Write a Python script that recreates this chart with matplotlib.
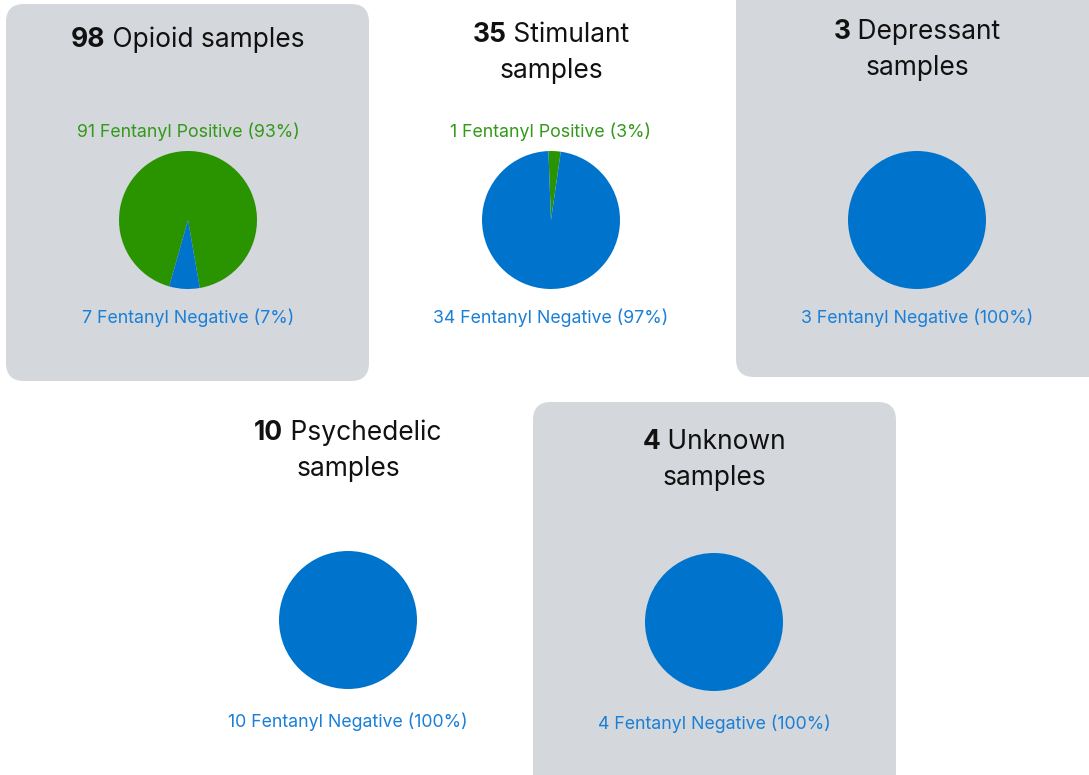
import matplotlib
matplotlib.use('Agg')
import matplotlib.pyplot as plt
from matplotlib.patches import FancyBboxPatch

# data
categories = ["Opioid", "Stimulant", "Depressant", "Psychedelic", "Unknown"]
totals = [98, 35, 3, 10, 4]
positive = [91, 1, 0, 0, 0]
negative = [7, 34, 3, 10, 4]

GREEN = "#2a9300"
BLUE = "#0074cc"
GREEN_TXT = "#33991a"
BLUE_TXT = "#1a7fd6"
GREY = "#d4d7dc"

W, H = 1089, 775
plt.rcParams['font.family'] = ['Inter', 'DejaVu Sans']

# layout in pixels: pie centre x, pie centre y, title lines y, label ys, box
panels = [
    dict(cx=188, cy=220, title_y=[40], pos_y=132, neg_y=318, box=(6, 4, 369, 381), split=False),
    dict(cx=551, cy=220, title_y=[35, 71], pos_y=132, neg_y=318, box=None, split=True),
    dict(cx=917, cy=220, title_y=[32, 68], pos_y=132, neg_y=318, box=(736, -20, 1110, 377), split=True),
    dict(cx=348, cy=620, title_y=[433, 469], pos_y=532, neg_y=722, box=None, split=True),
    dict(cx=714, cy=622, title_y=[442, 478], pos_y=534, neg_y=724, box=(533, 402, 896, 800), split=True),
]
R = 69

fig = plt.figure(figsize=(W / 100, H / 100), dpi=100)
bg = fig.add_axes([0, 0, 1, 1])
bg.set_xlim(0, W)
bg.set_ylim(H, 0)
bg.axis('off')

for p in panels:
    if p['box'] is not None:
        x0, y0, x1, y1 = p['box']
        bg.add_patch(FancyBboxPatch((x0, y0), x1 - x0, y1 - y0,
                                    boxstyle="round,pad=0,rounding_size=18",
                                    fc=GREY, ec='none', zorder=0))

fig.canvas.draw()
renderer = fig.canvas.get_renderer()

title_size = 19
label_size = 12.8

for i, p in enumerate(panels):
    cx, cy = p['cx'], p['cy']
    # title with bold count
    num = str(totals[i])
    rest = " " + categories[i] + ("" if p['split'] else " samples")
    ty = p['title_y'][0]
    t1 = bg.text(0, ty, num, fontsize=title_size, fontweight='bold', ha='left', va='center', color='#111111')
    t2 = bg.text(0, ty, rest, fontsize=title_size, ha='left', va='center', color='#111111')
    w1 = t1.get_window_extent(renderer).width
    w2 = t2.get_window_extent(renderer).width
    start = cx - (w1 + w2) / 2
    t1.set_x(start)
    t2.set_x(start + w1)
    if p['split']:
        bg.text(cx, p['title_y'][1], "samples", fontsize=title_size, ha='center', va='center', color='#111111')

    # pie
    ax = fig.add_axes([(cx - R) / W, (H - cy - R) / H, 2 * R / W, 2 * R / H])
    tot = positive[i] + negative[i]
    start_ang = 90 + positive[i] / tot * 180 - 3
    ax.pie([positive[i], negative[i]], colors=[GREEN, BLUE], startangle=start_ang,
           counterclock=False, radius=1, wedgeprops=dict(linewidth=0))
    ax.set_xlim(-1, 1)
    ax.set_ylim(-1, 1)
    ax.set_aspect('equal')
    ax.axis('off')

    # labels
    if positive[i] > 0:
        bg.text(cx, p['pos_y'], f"{positive[i]} Fentanyl Positive ({positive[i] / tot:.0%})",
                fontsize=label_size, ha='center', va='center', color=GREEN_TXT)
    bg.text(cx, p['neg_y'], f"{negative[i]} Fentanyl Negative ({negative[i] / tot:.0%})",
            fontsize=label_size, ha='center', va='center', color=BLUE_TXT)

fig.savefig('out.png', dpi=100)
